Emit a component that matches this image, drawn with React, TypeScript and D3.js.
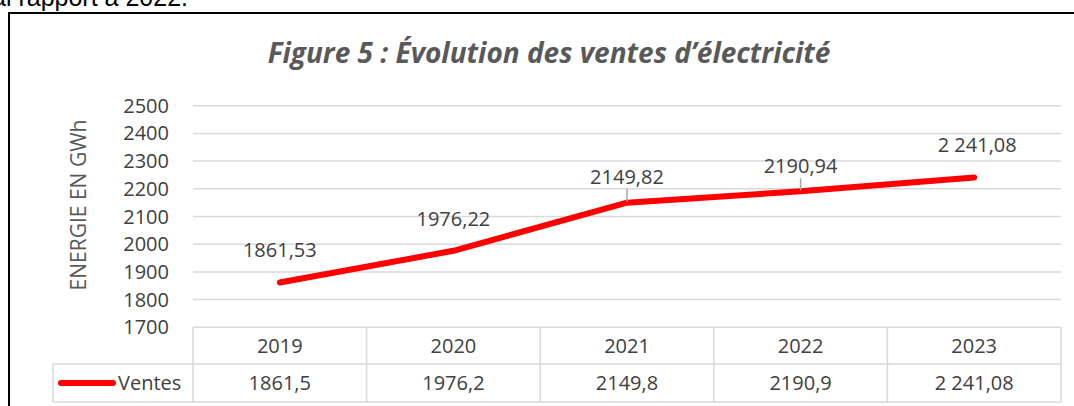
import * as d3 from 'd3';

// données
const years = ['2019', '2020', '2021', '2022', '2023'];
const ventes = [1861.53, 1976.22, 2149.82, 2190.94, 2241.08];
const pointLabels = ['1861,53', '1976,22', '2149,82', '2190,94', '2 241,08'];
const tableLabels = ['1861,5', '1976,2', '2149,8', '2190,9', '2 241,08'];
const yTicks = [1700, 1800, 1900, 2000, 2100, 2200, 2300, 2400, 2500];
const seriesName = 'Ventes';

// hauteur de l'étiquette au-dessus du point, et lignes de rappel
const labelLift = [26, 25, 19, 18, 25];
const hasLeader = [false, false, true, true, false];

const W = 1074;
const H = 406;
const FONT = "'Open Sans', sans-serif";
const TEXT = '#404040';
const GRID = '#d9d9d9';

export default function App() {
  const x = d3.scaleBand().domain(years).range([193, 1061]);
  const y = d3.scaleLinear().domain([1700, 2500]).range([327.3, 105.7]);
  const cx = (d: string) => (x(d) ?? 0) + x.bandwidth() / 2;

  const line = d3
    .line<number>()
    .x((_, i) => cx(years[i]))
    .y((d) => y(d));

  const rowTop = y(1700);
  const rowMid = 364;
  const rowBot = 402;

  return (
    <svg
      width={W}
      height={H}
      style={{ position: 'absolute', left: 0, top: 0, background: '#fff' }}
      fontFamily={FONT}
    >
      {/* texte coupé du document */}
      <text x={188} y={6} textAnchor="end" fontFamily="'Liberation Sans', Arial, sans-serif" fontSize={25} fill="#000">
        al rapport à 2022.
      </text>

      {/* cadre */}
      <line x1={8} y1={13} x2={W} y2={13} stroke="#000" strokeWidth={2} />
      <line x1={9} y1={13} x2={9} y2={H} stroke="#000" strokeWidth={2} />

      {/* titre */}
      <text x={549} y={63} textAnchor="middle" fontSize={28} fontWeight="bold" fontStyle="italic" fill="#595959">
        Figure 5 : Évolution des ventes d’électricité
      </text>

      {/* titre de l'axe */}
      <text
        transform={`translate(86,205) rotate(-90)`}
        textAnchor="middle"
        fontSize={21}
        fill="#595959"
      >
        ENERGIE EN GWh
      </text>

      {/* grille et graduations */}
      {yTicks.map((t) => (
        <g key={t}>
          {t > 1700 && (
            <line x1={193} x2={1061} y1={y(t)} y2={y(t)} stroke={GRID} strokeWidth={1.5} />
          )}
          <text x={169} y={y(t) + 7} textAnchor="end" fontSize={20} fill={TEXT}>
            {t}
          </text>
        </g>
      ))}

      {/* tableau de données */}
      <g stroke={GRID} strokeWidth={1.5} fill="none">
        <line x1={193} x2={1061} y1={rowTop} y2={rowTop} />
        <line x1={53} x2={1061} y1={rowMid} y2={rowMid} />
        <line x1={53} x2={1061} y1={rowBot} y2={rowBot} />
        <line x1={53} x2={53} y1={rowMid} y2={rowBot} />
        {years.map((yr) => (
          <line key={yr} x1={x(yr)} x2={x(yr)} y1={rowTop} y2={rowBot} />
        ))}
        <line x1={1061} x2={1061} y1={rowTop} y2={rowBot} />
      </g>
      {years.map((yr, i) => (
        <g key={yr} fontSize={20} fill={TEXT} textAnchor="middle">
          <text x={cx(yr)} y={353}>{yr}</text>
          <text x={cx(yr)} y={390}>{tableLabels[i]}</text>
        </g>
      ))}
      <line x1={61} x2={113} y1={383} y2={383} stroke="#ff0000" strokeWidth={6} strokeLinecap="round" />
      <text x={118} y={390} fontSize={20} fill={TEXT}>
        {seriesName}
      </text>

      {/* série */}
      <path
        d={line(ventes) ?? ''}
        fill="none"
        stroke="#ff0000"
        strokeWidth={6}
        strokeLinecap="round"
        strokeLinejoin="round"
      />

      {/* étiquettes */}
      {ventes.map((v, i) => (
        <g key={years[i]}>
          {hasLeader[i] && (
            <line
              x1={cx(years[i])}
              x2={cx(years[i])}
              y1={y(v) - labelLift[i] + 5}
              y2={y(v) - 1}
              stroke="#a6a6a6"
              strokeWidth={1.5}
            />
          )}
          <text
            x={cx(years[i]) + (i === 4 ? 3 : 0)}
            y={y(v) - labelLift[i]}
            textAnchor="middle"
            fontSize={20}
            fill={TEXT}
          >
            {pointLabels[i]}
          </text>
        </g>
      ))}
    </svg>
  );
}
